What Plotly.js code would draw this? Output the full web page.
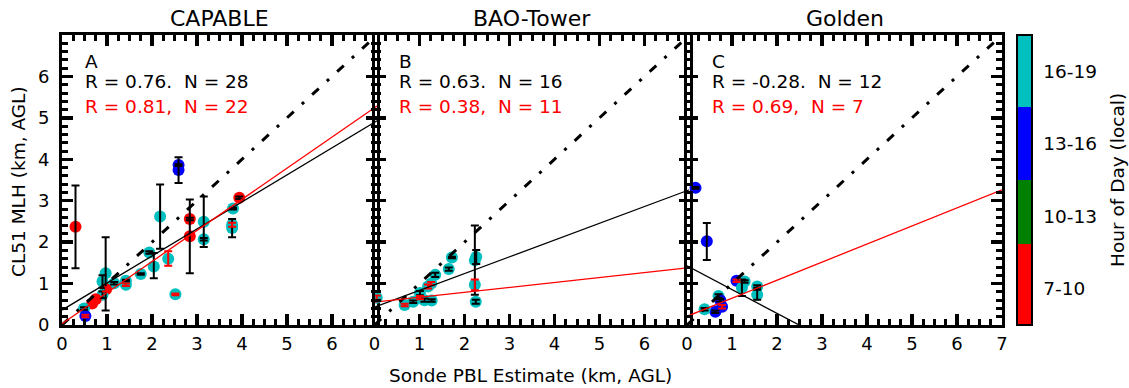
<!DOCTYPE html>
<html><head><meta charset="utf-8">
<script src="https://cdn.plot.ly/plotly-3.0.1.min.js"></script>
<style>html,body{margin:0;padding:0;background:#fff}#chart{width:1129px;height:388px}</style>
</head><body><div id="chart"></div>
<script>
// ---------------- data ----------------
const panelTitles = ['CAPABLE', 'BAO-Tower', 'Golden'];
const panelLetters = ['A', 'B', 'C'];
const rAll = ['0.76', '0.63', '-0.28'];
const nAll = [28, 16, 12];
const rSub = ['0.81', '0.38', '0.69'];
const nSub = [22, 11, 7];
const hourLabels = ['7-10', '10-13', '13-16', '16-19'];
const xTickVals = [[0,1,2,3,4,5,6], [0,1,2,3,4,5,6], [0,1,2,3,4,5,6,7]];
const yTickVals = [0,1,2,3,4,5,6];
const axisRange = [0, 7];

// hour group index: 0 = 7-10, 1 = 10-13, 2 = 13-16, 3 = 16-19 ; errRed 1 = red error bar
const capX = [0.30,2.59,2.59,2.18,2.84,2.84,3.15,3.15,3.94,3.80,3.78,3.78,2.52,2.36,1.94,2.04,1.75,1.42,1.42,1.16,0.97,0.90,0.98,0.90,0.75,0.67,0.49,0.52];
const capY = [2.37,3.86,3.74,2.62,2.56,2.14,2.49,2.07,3.07,2.81,2.34,2.42,0.74,1.60,1.75,1.41,1.23,1.07,0.97,1.01,1.25,1.05,0.86,0.73,0.62,0.52,0.40,0.22];
const capHour = [0,2,2,3,0,0,3,3,0,3,3,3,3,3,3,3,3,3,3,3,3,3,0,3,0,0,3,2];
const capErrMinus = [1.00,0.02,0.31,0.78,0.03,0.89,0.61,0.03,0.03,0.02,0.22,0.05,0.02,0.17,0.03,0.28,0.02,0.02,0.03,0.03,0.90,0.15,0.05,0.08,0.05,0.05,0.03,0.03];
const capErrPlus  = [1.00,0.02,0.31,0.77,0.03,0.89,0.61,0.03,0.03,0.02,0.22,0.05,0.02,0.18,0.03,0.33,0.02,0.02,0.03,0.03,0.87,0.15,0.05,0.08,0.05,0.05,0.03,0.03];
const capErrRed   = [0,0,0,0,0,0,0,0,0,0,0,1,1,1,0,0,0,0,1,0,0,0,1,0,1,1,0,1];

const baoX = [0.05,0.67,0.86,1.01,1.11,1.27,1.01,1.19,1.26,1.35,1.65,1.72,2.26,2.23,2.25,2.23];
const baoY = [0.66,0.48,0.56,0.66,0.60,0.59,0.77,0.93,1.00,1.21,1.35,1.63,1.64,0.97,0.56,1.56];
const baoHour = [3,3,3,3,3,3,3,3,3,3,3,3,3,3,3,3];
const baoErrMinus = [0.05,0.03,0.03,0.04,0.04,0.03,0.05,0.05,0.04,0.05,0.04,0.02,0.17,0.13,0.05,0.83];
const baoErrPlus  = [0.05,0.03,0.03,0.04,0.04,0.03,0.05,0.05,0.04,0.05,0.04,0.02,0.17,0.13,0.05,0.84];
const baoErrRed   = [1,1,0,1,0,0,0,1,1,0,0,0,0,1,0,0];

const golX = [0.19,0.44,1.10,1.28,1.22,1.56,1.56,0.70,0.74,0.78,0.63,0.39];
const golY = [3.31,2.02,1.07,1.05,0.90,0.93,0.73,0.70,0.60,0.44,0.32,0.38];
const golHour = [2,2,2,3,3,3,3,3,2,2,2,3];
const golErrMinus = [0.02,0.45,0.03,0.03,0.20,0.03,0.12,0.04,0.03,0.04,0.03,0.03];
const golErrPlus  = [0.02,0.44,0.03,0.03,0.20,0.03,0.12,0.04,0.03,0.04,0.03,0.03];
const golErrRed   = [0,0,1,0,0,0,0,0,0,1,0,0];

// regression fits (intercept, slope): all points (black) and subset (red)
const fitAllIntercept = [0.36, 0.43, 1.43];
const fitAllSlope = [0.653, 0.405, -0.574];
const fitSubIntercept = [0.03, 0.55, 0.21];
const fitSubSlope = [0.751, 0.119, 0.436];

// ---------------- figure ----------------
const FONT = 'DejaVu Sans';
const panels = [
  {x: capX, y: capY, h: capHour, em: capErrMinus, ep: capErrPlus, red: capErrRed},
  {x: baoX, y: baoY, h: baoHour, em: baoErrMinus, ep: baoErrPlus, red: baoErrRed},
  {x: golX, y: golY, h: golHour, em: golErrMinus, ep: golErrPlus, red: golErrRed}
];
const hourColorPos = [0.14, 0.39, 0.63, 0.88];
const cscale = [[0,'#ff0000'],[0.28,'#ff0000'],[0.28,'#008000'],[0.5,'#008000'],
                [0.5,'#0000ff'],[0.752,'#0000ff'],[0.752,'#00bfbf'],[1,'#00bfbf']];

const L = 62, R = 127, PAPERW = 1129 - L - R, PW = 315;
const starts = [0, 312.5, 625];
const axn = i => i === 0 ? '' : String(i + 1);

const traces = [];
panels.forEach((p, i) => {
  traces.push({
    type: 'scatter', mode: 'markers', x: p.x, y: p.y,
    xaxis: 'x' + axn(i), yaxis: 'y' + axn(i),
    marker: {
      size: 12, color: p.h.map(h => hourColorPos[h]), colorscale: cscale, cmin: 0, cmax: 1,
      line: {width: 0}, showscale: i === 0,
      colorbar: {
        x: (1017 - L) / PAPERW, xanchor: 'left', xpad: 0, ypad: 0,
        y: 0.5, yanchor: 'middle', len: 1, lenmode: 'fraction', thickness: 15,
        outlinewidth: 2, outlinecolor: '#000',
        tickmode: 'array', tickvals: [0.125, 0.375, 0.625, 0.875], ticktext: hourLabels,
        ticks: 'outside', ticklen: 7, tickcolor: 'rgba(0,0,0,0)',
        tickfont: {family: FONT, size: 18.5, color: '#000'}
      }
    },
    showlegend: false, hoverinfo: 'skip'
  });
});
panels.forEach((p, i) => {
  [0, 1].forEach(flag => {
    const idx = p.x.map((v, k) => k).filter(k => p.red[k] === flag);
    traces.push({
      type: 'scatter', mode: 'markers',
      x: idx.map(k => p.x[k]), y: idx.map(k => p.y[k]),
      xaxis: 'x' + axn(i), yaxis: 'y' + axn(i),
      marker: {size: 1, opacity: 0},
      error_y: {type: 'data', symmetric: false, array: idx.map(k => p.ep[k]), arrayminus: idx.map(k => p.em[k]),
                color: flag ? '#ff0000' : '#000000', thickness: 2, width: 4},
      showlegend: false, hoverinfo: 'skip'
    });
  });
});
panels.forEach((p, i) => {
  traces.push({type: 'scatter', mode: 'lines', x: axisRange, y: axisRange.map(v => v),
    xaxis: 'x' + axn(i), yaxis: 'y' + axn(i),
    line: {color: '#000', width: 3, dash: '9px,11px,3px,11px'}, showlegend: false, hoverinfo: 'skip'});
  traces.push({type: 'scatter', mode: 'lines', x: axisRange, y: axisRange.map(v => fitAllIntercept[i] + fitAllSlope[i] * v),
    xaxis: 'x' + axn(i), yaxis: 'y' + axn(i),
    line: {color: '#000', width: 1.3}, showlegend: false, hoverinfo: 'skip'});
  traces.push({type: 'scatter', mode: 'lines', x: axisRange, y: axisRange.map(v => fitSubIntercept[i] + fitSubSlope[i] * v),
    xaxis: 'x' + axn(i), yaxis: 'y' + axn(i),
    line: {color: '#ff0000', width: 1.3}, showlegend: false, hoverinfo: 'skip'});
  // empty traces so the opposite-side tick axes (top / right) get drawn
  traces.push({type: 'scatter', mode: 'markers', x: [], y: [], xaxis: 'x' + (i + 4), yaxis: 'y' + axn(i),
    showlegend: false, hoverinfo: 'skip'});
  traces.push({type: 'scatter', mode: 'markers', x: [], y: [], xaxis: 'x' + axn(i), yaxis: 'y' + (i + 4),
    showlegend: false, hoverinfo: 'skip'});
});

const layout = {
  width: 1129, height: 388,
  margin: {l: L, r: R, t: 35, b: 63, pad: 0},
  paper_bgcolor: '#fff', plot_bgcolor: 'rgba(0,0,0,0)',
  font: {family: FONT, size: 18, color: '#000'},
  showlegend: false,
  annotations: []
};
const tickStyle = {ticks: 'inside', ticklen: 11, tickwidth: 3.5, tickcolor: '#000'};
const minorStyle = dt => ({tickmode: 'linear', tick0: 0, dtick: dt, ticks: 'inside', ticklen: 6, tickwidth: 3, tickcolor: '#000', showgrid: false});
const stats = [0.46, 0.5, 0.5];
panels.forEach((p, i) => {
  const d0 = starts[i] / PAPERW, d1 = (starts[i] + PW) / PAPERW;
  const xr = 'x' + axn(i), yr = 'y' + axn(i);
  layout['xaxis' + axn(i)] = Object.assign({
    domain: [d0, Math.min(d1, 1)], anchor: yr, range: axisRange,
    tickmode: 'array', tickvals: xTickVals[i],
    showline: true, linewidth: 3, linecolor: '#000', mirror: true,
    showgrid: false, zeroline: false, tickfont: {family: FONT, size: 18, color: '#000'},
    minor: minorStyle(0.25), fixedrange: true
  }, tickStyle);
  layout['yaxis' + axn(i)] = Object.assign({
    domain: [0, 1], anchor: xr, range: axisRange,
    tickmode: 'array', tickvals: yTickVals,
    showline: true, linewidth: 3, linecolor: '#000', mirror: true,
    showgrid: false, zeroline: false, showticklabels: i === 0, ticklabelstandoff: 6,
    tickfont: {family: FONT, size: 18, color: '#000'},
    minor: minorStyle(0.2), fixedrange: true
  }, tickStyle);
  // opposite-side tick rulers (top and right)
  layout['xaxis' + (i + 4)] = Object.assign({
    overlaying: xr, anchor: yr, side: 'top', range: axisRange,
    tickmode: 'array', tickvals: xTickVals[i], showticklabels: false,
    showline: false, showgrid: false, zeroline: false, minor: minorStyle(0.25), fixedrange: true
  }, tickStyle);
  layout['yaxis' + (i + 4)] = Object.assign({
    overlaying: yr, anchor: xr, side: 'right', range: axisRange,
    tickmode: 'array', tickvals: yTickVals, showticklabels: false,
    showline: false, showgrid: false, zeroline: false, minor: minorStyle(0.2), fixedrange: true
  }, tickStyle);

  layout.annotations.push(
    {xref: xr + ' domain', yref: 'paper', x: 0.5, y: (325 - 18) / 290, xanchor: 'center', yanchor: 'middle',
     text: panelTitles[i], showarrow: false, font: {family: FONT, size: 22, color: '#000'}},
    {xref: xr, yref: yr, x: stats[i], y: 6.36, xanchor: 'left', yanchor: 'middle',
     text: panelLetters[i], showarrow: false, font: {family: FONT, size: 18.5, color: '#000'}},
    {xref: xr, yref: yr, x: stats[i], y: 5.87, xanchor: 'left', yanchor: 'middle',
     text: 'R = ' + rAll[i] + '.\u00a0 N = ' + nAll[i], showarrow: false, font: {family: FONT, size: 18.5, color: '#000'}},
    {xref: xr, yref: yr, x: stats[i], y: 5.28, xanchor: 'left', yanchor: 'middle',
     text: 'R = ' + rSub[i] + ',\u00a0 N = ' + nSub[i], showarrow: false, font: {family: FONT, size: 18.5, color: '#ff0000'}}
  );
});
layout.annotations.push(
  {xref: 'paper', yref: 'paper', x: (530 - L) / PAPERW, y: (325 - 375) / 290, xanchor: 'center', yanchor: 'middle',
   text: 'Sonde PBL Estimate (km, AGL)', showarrow: false, font: {family: FONT, size: 18.5, color: '#000'}},
  {xref: 'paper', yref: 'paper', x: (18 - L) / PAPERW, y: (325 - 182) / 290, xanchor: 'center', yanchor: 'middle',
   text: 'CL51 MLH (km, AGL)', textangle: -90, showarrow: false, font: {family: FONT, size: 18.5, color: '#000'}},
  {xref: 'paper', yref: 'paper', x: (1117 - L) / PAPERW, y: (325 - 180) / 290, xanchor: 'center', yanchor: 'middle',
   text: 'Hour of Day (local)', textangle: -90, showarrow: false, font: {family: FONT, size: 18.5, color: '#000'}}
);

Plotly.newPlot('chart', traces, layout, {staticPlot: true, displayModeBar: false});
</script></body></html>
